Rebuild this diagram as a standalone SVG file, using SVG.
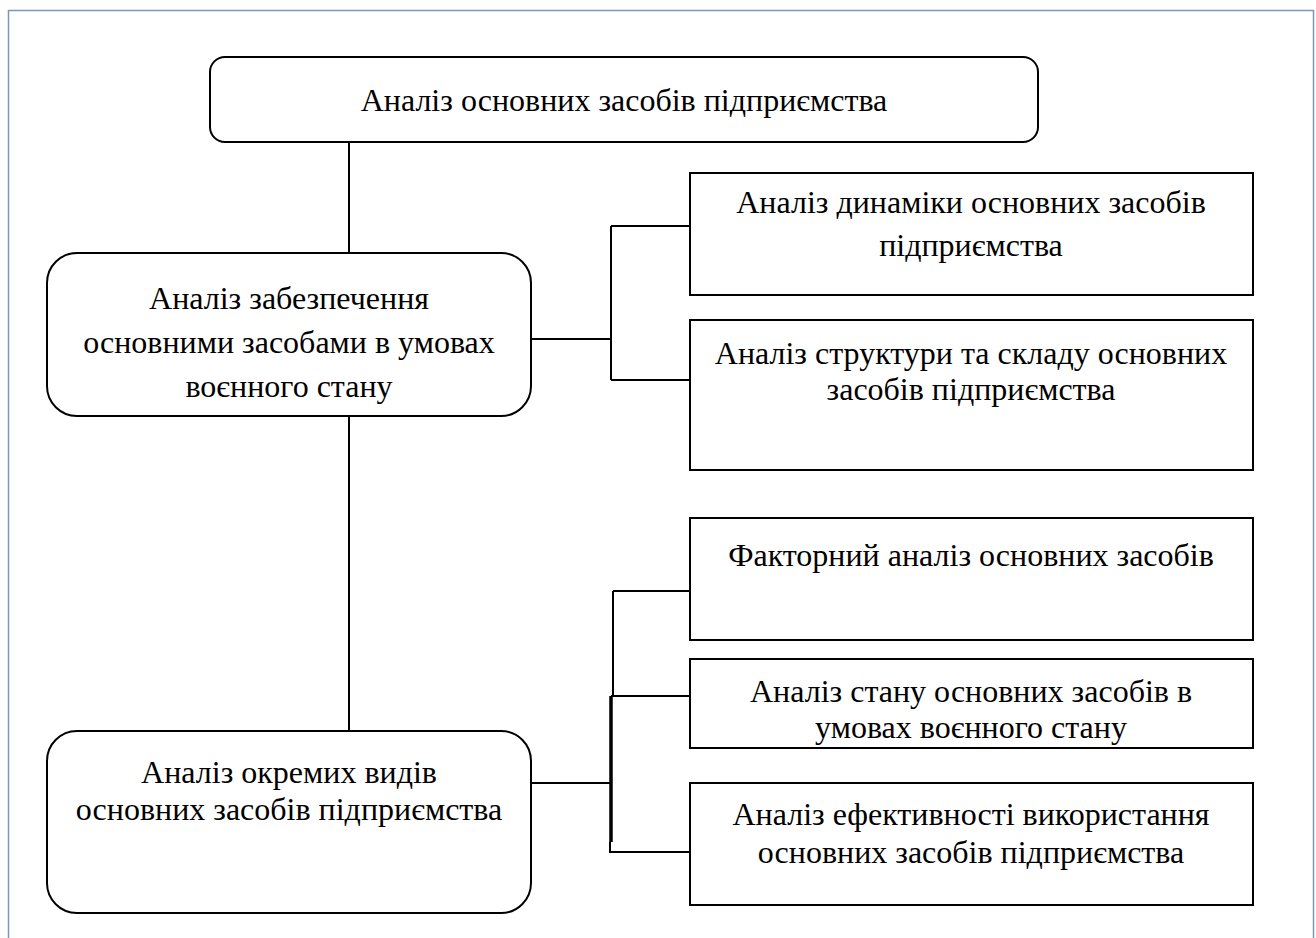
<svg xmlns="http://www.w3.org/2000/svg" width="1316" height="938" viewBox="0 0 1316 938">
<style>
.box{fill:#fff;stroke:#000;stroke-width:2}
.ln{stroke:#000;stroke-width:2;fill:none}
text{font-family:"Liberation Serif","Times New Roman",serif;font-size:32px;fill:#000;text-anchor:middle}
</style>
<rect x="0" y="0" width="1316" height="938" fill="#fff"/>
<rect x="8.5" y="10.5" width="1305" height="1000" fill="none" stroke="#7b96bd" stroke-width="1.5"/>
<g id="connectors">
<path class="ln" d="M349,142 V253"/>
<path class="ln" d="M349,416 V731"/>
<path class="ln" d="M531,339 H611 M611,226 V380 M611,226 H690 M611,380 H690"/>
<path class="ln" d="M531,783 H611 M613,591 V696 M613,591 H690 M611,696 H690 M610,842 V852 H690"/>
<path d="M611,696 V842" stroke="#000" stroke-width="3.5"/>
</g>
<g id="n-top">
<rect class="box" x="210" y="57" width="828" height="85" rx="15"/>
<text x="624" y="111">Аналіз основних засобів підприємства</text>
</g>
<g id="n-supply">
<rect class="box" x="47" y="253" width="484" height="163" rx="30"/>
<text x="289" y="309">Аналіз забезпечення</text>
<text x="289" y="353">основними засобами в умовах</text>
<text x="289" y="397">воєнного стану</text>
</g>
<g id="n-types">
<rect class="box" x="47" y="731" width="484" height="182" rx="30"/>
<text x="289" y="783">Аналіз окремих видів</text>
<text x="289" y="820">основних засобів підприємства</text>
</g>
<g id="n-dynamics">
<rect class="box" x="690" y="173" width="563" height="122"/>
<text x="971" y="213">Аналіз динаміки основних засобів</text>
<text x="971" y="256">підприємства</text>
</g>
<g id="n-structure">
<rect class="box" x="690" y="320" width="563" height="150"/>
<text x="971" y="364">Аналіз структури та складу основних</text>
<text x="971" y="400">засобів підприємства</text>
</g>
<g id="n-factor">
<rect class="box" x="690" y="518" width="563" height="122"/>
<text x="971" y="566">Факторний аналіз основних засобів</text>
</g>
<g id="n-state">
<clipPath id="clipState"><rect x="690" y="659" width="563" height="89"/></clipPath>
<rect class="box" x="690" y="659" width="563" height="89"/>
<g clip-path="url(#clipState)">
<text x="971" y="702">Аналіз стану основних засобів в</text>
<text x="971" y="738">умовах воєнного стану</text>
</g>
<rect x="690" y="659" width="563" height="89" fill="none" stroke="#000" stroke-width="2"/>
</g>
<g id="n-efficiency">
<rect class="box" x="690" y="783" width="563" height="122"/>
<text x="971" y="825">Аналіз ефективності використання</text>
<text x="971" y="863">основних засобів підприємства</text>
</g>
</svg>
